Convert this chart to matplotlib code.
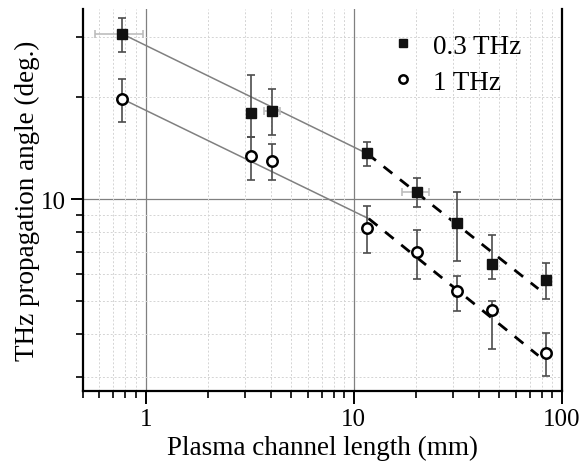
import numpy as np
import matplotlib
matplotlib.use("Agg")
import matplotlib.pyplot as plt
from matplotlib.ticker import LogLocator, NullFormatter, FixedLocator, FixedFormatter

plt.rcParams['font.family'] = ['Liberation Serif', 'DejaVu Serif']

# 0.3 THz (filled squares)
x03 = [0.773, 3.19, 4.03, 11.6, 20.1, 31.2, 46.2, 83.6]
y03 = [30.6, 17.9, 18.2, 13.7, 10.5, 8.52, 6.44, 5.78]
y03_hi = [34.0, 23.2, 21.1, 14.7, 11.5, 10.46, 7.84, 6.47]
y03_lo = [27.1, 15.2, 15.4, 12.5, 9.45, 6.59, 5.82, 5.07]
x03_lo = [0.571, 3.19, 3.7, 11.6, 17.0, 29.5, 46.2, 83.6]
x03_hi = [0.967, 3.19, 4.4, 11.6, 23.0, 33.0, 46.2, 83.6]

# 1 THz (open circles)
x1 = [0.773, 3.19, 4.03, 11.6, 20.1, 31.2, 46.2, 83.6]
y1 = [19.7, 13.35, 12.9, 8.23, 6.97, 5.35, 4.72, 3.52]
y1_hi = [22.5, 15.2, 14.5, 9.52, 8.11, 5.95, 5.0, 4.03]
y1_lo = [16.8, 11.4, 11.4, 6.94, 5.82, 4.69, 3.62, 3.02]

# power-law fit segments
fit03_solid_x = [0.773, 11.6]
fit03_solid_y = [30.6, 13.6]
fit03_dash_x = [11.6, 77.0]
fit03_dash_y = [13.6, 5.44]
fit1_solid_x = [0.773, 11.8]
fit1_solid_y = [19.7, 8.75]
fit1_dash_x = [11.8, 77.0]
fit1_dash_y = [8.75, 3.46]

xticks = [1, 10, 100]
xtick_labels = ['1', '10', '100']

fig = plt.figure(figsize=(5.82, 4.64), dpi=100)
ax = fig.add_axes([0.1426, 0.155, 0.823, 0.823])
ax.set_xscale('log')
ax.set_yscale('log')
ax.set_xlim(0.5, 100)
ax.set_ylim(2.72, 36.2)

# grid
ax.set_axisbelow(True)
for gx in [1, 10]:
    ax.axvline(gx, color='#808080', lw=0.9, zorder=0)
ax.axhline(10, color='#808080', lw=0.9, zorder=0)
ax.grid(which='minor', color='#d4d4d4', ls=(0, (2, 2)), lw=0.7)

# fit lines
ax.plot(fit03_solid_x, fit03_solid_y, color='#808080', lw=1.1, zorder=2)
ax.plot(fit1_solid_x, fit1_solid_y, color='#808080', lw=1.1, zorder=2)
ax.plot(fit03_dash_x, fit03_dash_y, color='black', lw=2.0, ls=(0, (4, 3.5)), zorder=2)
ax.plot(fit1_dash_x, fit1_dash_y, color='black', lw=2.0, ls=(0, (4, 3.5)), zorder=2)

# error bars
x03a = np.array(x03); y03a = np.array(y03)
x1a = np.array(x1); y1a = np.array(y1)
ax.errorbar(x03a, y03a, xerr=[x03a - np.array(x03_lo), np.array(x03_hi) - x03a],
            fmt='none', ecolor='#bdbdbd', elinewidth=1.2, capsize=3, capthick=1.2, zorder=3)
ax.errorbar(x03a, y03a, yerr=[y03a - np.array(y03_lo), np.array(y03_hi) - y03a],
            fmt='none', ecolor='#4d4d4d', elinewidth=1.2, capsize=3, capthick=1.2, zorder=3)
ax.errorbar(x1a, y1a, yerr=[y1a - np.array(y1_lo), np.array(y1_hi) - y1a],
            fmt='none', ecolor='#4d4d4d', elinewidth=1.2, capsize=3, capthick=1.2, zorder=3)

sq, = ax.plot(x03, y03, 's', color='#111111', ms=7, ls='none', zorder=4, label='0.3 THz')
ci, = ax.plot(x1, y1, 'o', mfc='white', mec='black', mew=1.8, ms=7.5, ls='none',
              zorder=4, label='1 THz')

ax.legend(handles=[sq, ci], loc='upper left', bbox_to_anchor=(0.6, 0.985),
          frameon=False, fontsize=19.5, handlelength=1.0, handletextpad=0.6,
          labelspacing=0.4, borderpad=0.2, markerscale=0.8)

# spines and ticks
ax.spines['top'].set_visible(False)
for s in ['left', 'right', 'bottom']:
    ax.spines[s].set_linewidth(1.6)
ax.xaxis.set_major_locator(FixedLocator(xticks))
ax.xaxis.set_major_formatter(FixedFormatter(xtick_labels))
ax.yaxis.set_major_locator(FixedLocator([10]))
ax.yaxis.set_major_formatter(FixedFormatter(['10']))
ax.yaxis.set_minor_locator(LogLocator(base=10, subs=np.arange(2, 10)))
ax.yaxis.set_minor_formatter(NullFormatter())
ax.xaxis.set_minor_formatter(NullFormatter())
ax.tick_params(which='major', direction='out', length=9, width=1.4, labelsize=18,
               top=False, right=False, pad=3)
ax.tick_params(which='minor', direction='out', length=5, width=1.2, top=False, right=False)

ax.set_xlabel('Plasma channel length (mm)', fontsize=19.5, labelpad=4)
ax.set_ylabel('THz propagation angle (deg.)', fontsize=19.5, labelpad=1)

fig.savefig('out.png', dpi=100)
